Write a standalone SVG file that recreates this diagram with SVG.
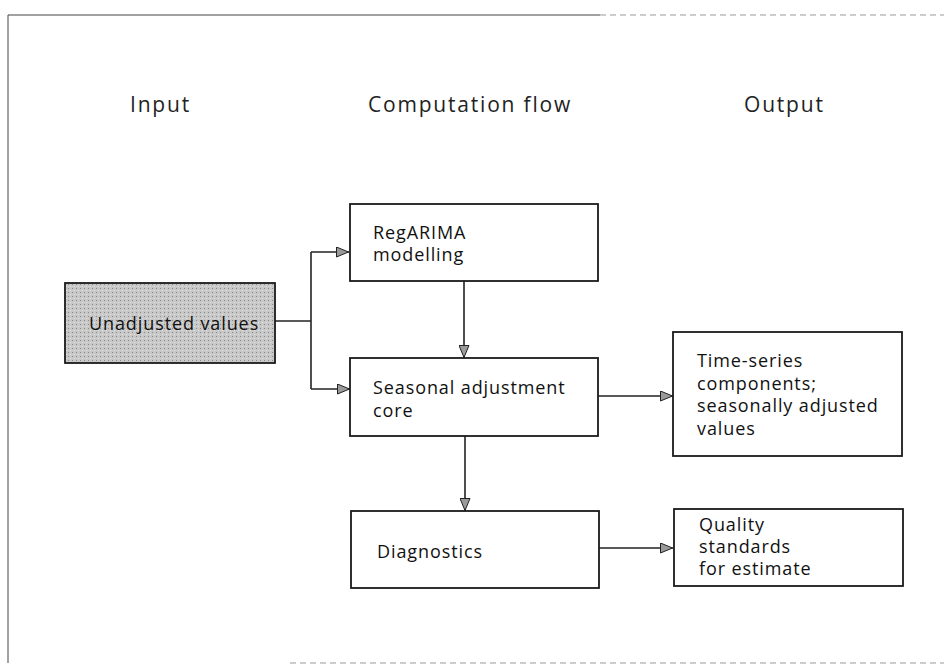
<svg xmlns="http://www.w3.org/2000/svg" width="944" height="665" viewBox="0 0 944 665">
<style>
.bg{fill:#ffffff}
.frame{stroke:#444;stroke-width:1;fill:none}
.frameLight{stroke:#999;stroke-width:1;fill:none;stroke-dasharray:6 4}
.head{font-family:"Open Sans","Noto Sans",sans-serif;font-size:21px;letter-spacing:1.8px;fill:#222}
.box{fill:#fff;stroke:#1a1a1a;stroke-width:1.8}
.boxGray{stroke:#1a1a1a;stroke-width:1.8}
.lbl{font-family:"Open Sans","Noto Sans",sans-serif;font-size:18px;letter-spacing:0.9px;fill:#111}
.conn{stroke:#222;stroke-width:1.6;fill:none}
.ah{fill:#9a9a9a;stroke:#222;stroke-width:1}
</style>
<defs>
<pattern id="stip" width="4" height="4" patternUnits="userSpaceOnUse">
<rect width="4" height="4" fill="#c8c8c8"/>
<rect x="0" y="0" width="1" height="1" fill="#8a8a8a"/>
<rect x="2" y="2" width="1" height="1" fill="#e6e6e6"/>
</pattern>
<marker id="arr" viewBox="0 0 13 11" refX="13" refY="5.5" markerWidth="13" markerHeight="11" markerUnits="userSpaceOnUse" orient="auto">
<path d="M0.5,0.5 L12.5,5.5 L0.5,10.5 Z" class="ah"/>
</marker>
</defs>
<rect class="bg" x="0" y="0" width="944" height="665"/>
<g id="frame">
<path class="frame" d="M8,15 H600"/>
<path class="frameLight" d="M600,15 H944"/>
<path class="frame" stroke="#777" d="M8,15 V663"/>
<path class="frameLight" d="M290,663 H944"/>
</g>
<g id="headings">
<text class="head" x="130" y="112">Input</text>
<text class="head" x="368" y="112">Computation flow</text>
<text class="head" x="744" y="112">Output</text>
</g>
<g id="connectors">
<path class="conn" d="M275,321 H311"/>
<path class="conn" d="M311,252 V389"/>
<path class="conn" d="M311,252 H349" marker-end="url(#arr)"/>
<path class="conn" d="M311,389 H350" marker-end="url(#arr)"/>
<path class="conn" d="M464,281 V358" marker-end="url(#arr)"/>
<path class="conn" d="M465,436 V511" marker-end="url(#arr)"/>
<path class="conn" d="M598,396 H673" marker-end="url(#arr)"/>
<path class="conn" d="M599,548 H673" marker-end="url(#arr)"/>
</g>
<g id="unadjusted">
<rect class="boxGray" x="65" y="283" width="210" height="80" fill="url(#stip)"/>
<text class="lbl" x="89" y="330">Unadjusted values</text>
</g>
<g id="regarima">
<rect class="box" x="350" y="204" width="248" height="77"/>
<text class="lbl" x="373" y="239">RegARIMA</text>
<text class="lbl" x="373" y="261">modelling</text>
</g>
<g id="seasonal">
<rect class="box" x="350" y="358" width="248" height="78"/>
<text class="lbl" x="373" y="394">Seasonal adjustment</text>
<text class="lbl" x="373" y="417">core</text>
</g>
<g id="diagnostics">
<rect class="box" x="351" y="511" width="248" height="77"/>
<text class="lbl" x="377" y="558">Diagnostics</text>
</g>
<g id="timeseries">
<rect class="box" x="673" y="332" width="229" height="124"/>
<text class="lbl" x="697" y="367">Time-series</text>
<text class="lbl" x="697" y="390">components;</text>
<text class="lbl" x="697" y="412">seasonally adjusted</text>
<text class="lbl" x="697" y="435">values</text>
</g>
<g id="quality">
<rect class="box" x="674" y="509" width="229" height="77"/>
<text class="lbl" x="699" y="531">Quality</text>
<text class="lbl" x="699" y="553">standards</text>
<text class="lbl" x="699" y="575">for estimate</text>
</g>
</svg>
